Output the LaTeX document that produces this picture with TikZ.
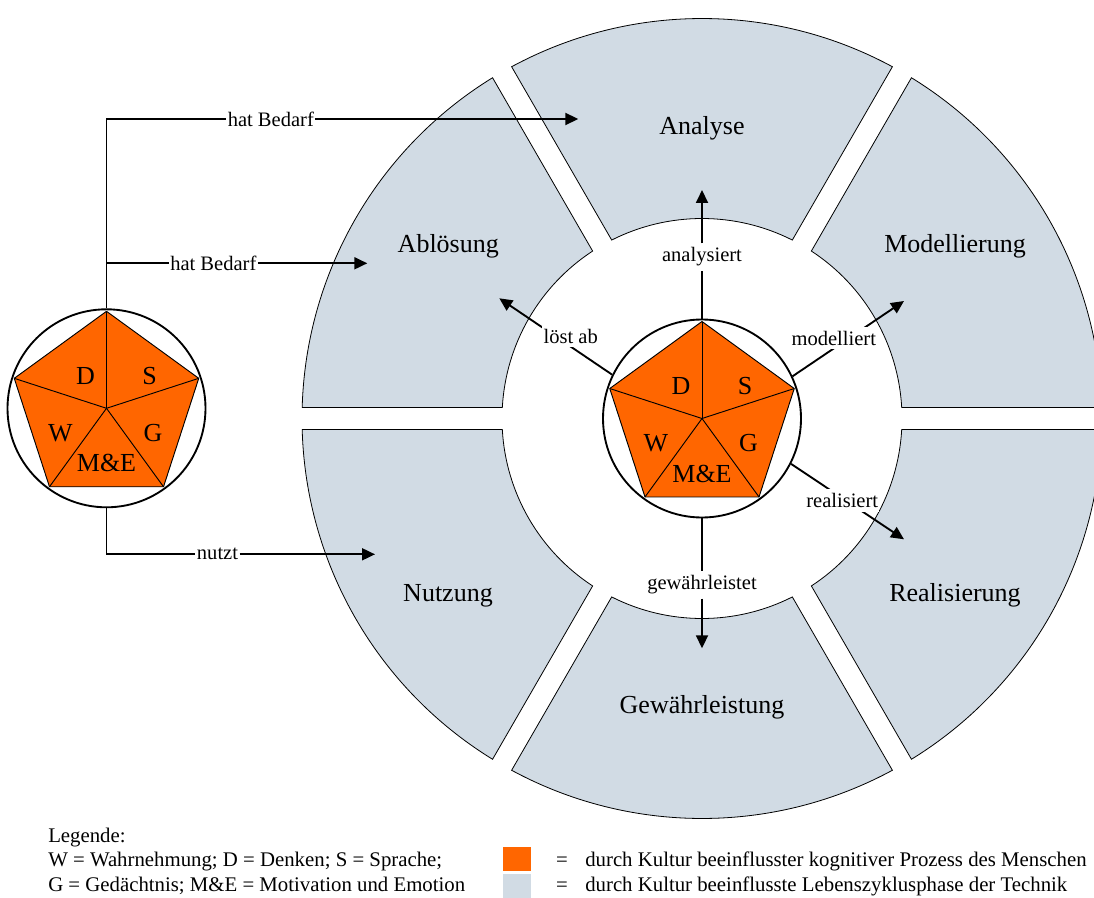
\documentclass[tikz,border=0pt]{standalone}
\usepackage{fontspec}
\setmainfont{Liberation Serif}
\usetikzlibrary{arrows.meta,calc}
\definecolor{pent}{HTML}{FF6600}
\definecolor{phase}{HTML}{D1DBE4}
\tikzset{
  bigtxt/.style={font=\fontsize{19.5}{22}\selectfont, inner sep=0pt},
  lbl/.style={font=\fontsize{15.4}{18}\selectfont, fill=white, inner xsep=1pt, inner ysep=3pt},
  legtxt/.style={font=\fontsize{15.6}{18}\selectfont, inner sep=0pt},
  wire/.style={line width=1.4pt},
  conn/.style={line width=1.4pt, -{Triangle[length=9.75pt,width=9pt]}},
  phasebox/.style={fill=phase, draw=black, line width=0.6pt},
  ringnode/.style={circle, draw, line width=1.4pt, minimum size=148.5pt, inner sep=0pt},
  slice/.style={draw=black, line width=0.7pt, line join=round},
  keybox/.style={minimum width=21pt, minimum height=18pt, inner sep=0pt, anchor=north west},
}
\newcommand\kogpent[2]{%
  \draw[slice, fill=pent] ($(#1)+(-90:97)$) -- ($(#1)+(-18:97)$) -- ($(#1)+(54:97)$) -- ($(#1)+(126:97)$) -- ($(#1)+(198:97)$) -- cycle;
  \foreach \a in {-90,-18,54,126,198} \draw[slice] (#1) -- ($(#1)+(\a:97)$);
  \node[bigtxt] (#2D) at ($(#1)+(-21,-32)$) {D};
  \node[bigtxt] (#2S) at ($(#1)+(43,-32)$) {S};
  \node[bigtxt] (#2W) at ($(#1)+(-46,25)$) {W};
  \node[bigtxt] (#2G) at ($(#1)+(46.5,25)$) {G};
  \node[bigtxt] (#2M) at ($(#1)+(0,55)$) {M\&E};
  \node[ringnode] (#2c) at (#1) {};
}
\begin{document}
\begin{tikzpicture}[x=0.75pt,y=-0.75pt]
\useasboundingbox (0,0) rectangle (1094,898);
\clip (0,0) rectangle (1094,898);
\coordinate (C) at (702,418.5);
\coordinate (L) at (106.5,408.3);
% ring of life-cycle phases
\pgfmathsetmacro\aR{asin(11/400)}
\pgfmathsetmacro\ar{asin(11/200)}
\foreach \c in {90,30,-30,-90,-150,150}{
  \pgfmathsetmacro\oa{\c-30+\aR}
  \pgfmathsetmacro\ob{\c+30-\aR}
  \pgfmathsetmacro\ia{\c+30-\ar}
  \pgfmathsetmacro\ib{\c-30+\ar}
  \path[phasebox] ($(C)+(\oa:400)$) arc[start angle=\oa, end angle=\ob, radius=400]
     -- ($(C)+(\ia:200)$) arc[start angle=\ia, end angle=\ib, radius=200] -- cycle;
}
\node[bigtxt, anchor=base] (ana) at (702,135) {Analyse};
\node[bigtxt, anchor=base] (abl) at (448.3,252.5) {Ablösung};
\node[bigtxt, anchor=base] (mod) at (955,252.5) {Modellierung};
\node[bigtxt, anchor=base] (nut) at (448,601.7) {Nutzung};
\node[bigtxt, anchor=base] (rea) at (955,601.7) {Realisierung};
\node[bigtxt, anchor=base] (gew) at (702,713.3) {Gewährleistung};
% pentagons
\kogpent{C}{m}
\kogpent{L}{l}
% arrows from the central pentagon
\coordinate (tan) at (702,190);
\coordinate (tmo) at (904,301);
\coordinate (trea) at (904,539.3);
\coordinate (tabl) at (499.3,298.3);
\coordinate (tgw) at (702,648.3);
\draw[conn] (mc.25) -- (tmo);
\draw[conn] (mc.-27) -- (trea);
\draw[conn] (mc.154) -- (tabl);
\node[lbl] (lan) at (702,257) {analysiert};
\node[lbl] (lmo) at (833.8,338) {modelliert};
\node[lbl] (lrea) at (842.2,500.3) {realisiert};
\node[lbl] (labl) at (570.7,336) {löst ab};
\node[lbl] (lgw) at (702,585) {gewährleistet};
\draw[wire] (mc.north) -- (lan.south);
\draw[conn] (lan.north) -- (tan);
\draw[wire] (mc.south) -- (lgw.north);
\draw[conn] (lgw.south) -- (tgw);
% connectors from the left pentagon
\coordinate (t1) at (578.3,119);
\coordinate (j2) at (106.5,263.3);
\coordinate (t2) at (367.3,263.3);
\coordinate (t3) at (375,554.3);
\node[lbl] (hb1) at (270.8,119) {hat Bedarf};
\node[lbl] (hb2) at (213.3,263.3) {hat Bedarf};
\node[lbl] (nz) at (217.5,554.3) {nutzt};
\draw[wire] (lc.north) |- (hb1.west);
\draw[conn] (hb1.east) -- (t1);
\draw[wire] (j2) -- (hb2.west);
\draw[conn] (hb2.east) -- (t2);
\draw[wire] (lc.south) |- (nz.west);
\draw[conn] (nz.east) -- (t3);
% legend
\node[legtxt, anchor=base west] (lg0) at (48,842) {Legende:};
\node[legtxt, anchor=base west] (lg1) at (48,866) {W = Wahrnehmung; D = Denken; S = Sprache;};
\node[legtxt, anchor=base west] (lg2) at (48,891) {G = Gedächtnis; M\&E = Motivation und Emotion};
\node[keybox, fill=pent] (k1) at (503,847) {};
\node[keybox, fill=phase] (k2) at (503,874) {};
\node[legtxt, anchor=base] (e1) at (562,866) {=};
\node[legtxt, anchor=base] (e2) at (562,891) {=};
\node[legtxt, anchor=base west] (d1) at (585,866) {durch Kultur beeinflusster kognitiver Prozess des Menschen};
\node[legtxt, anchor=base west] (d2) at (585,891) {durch Kultur beeinflusste Lebenszyklusphase der Technik};
\end{tikzpicture}
\end{document}
